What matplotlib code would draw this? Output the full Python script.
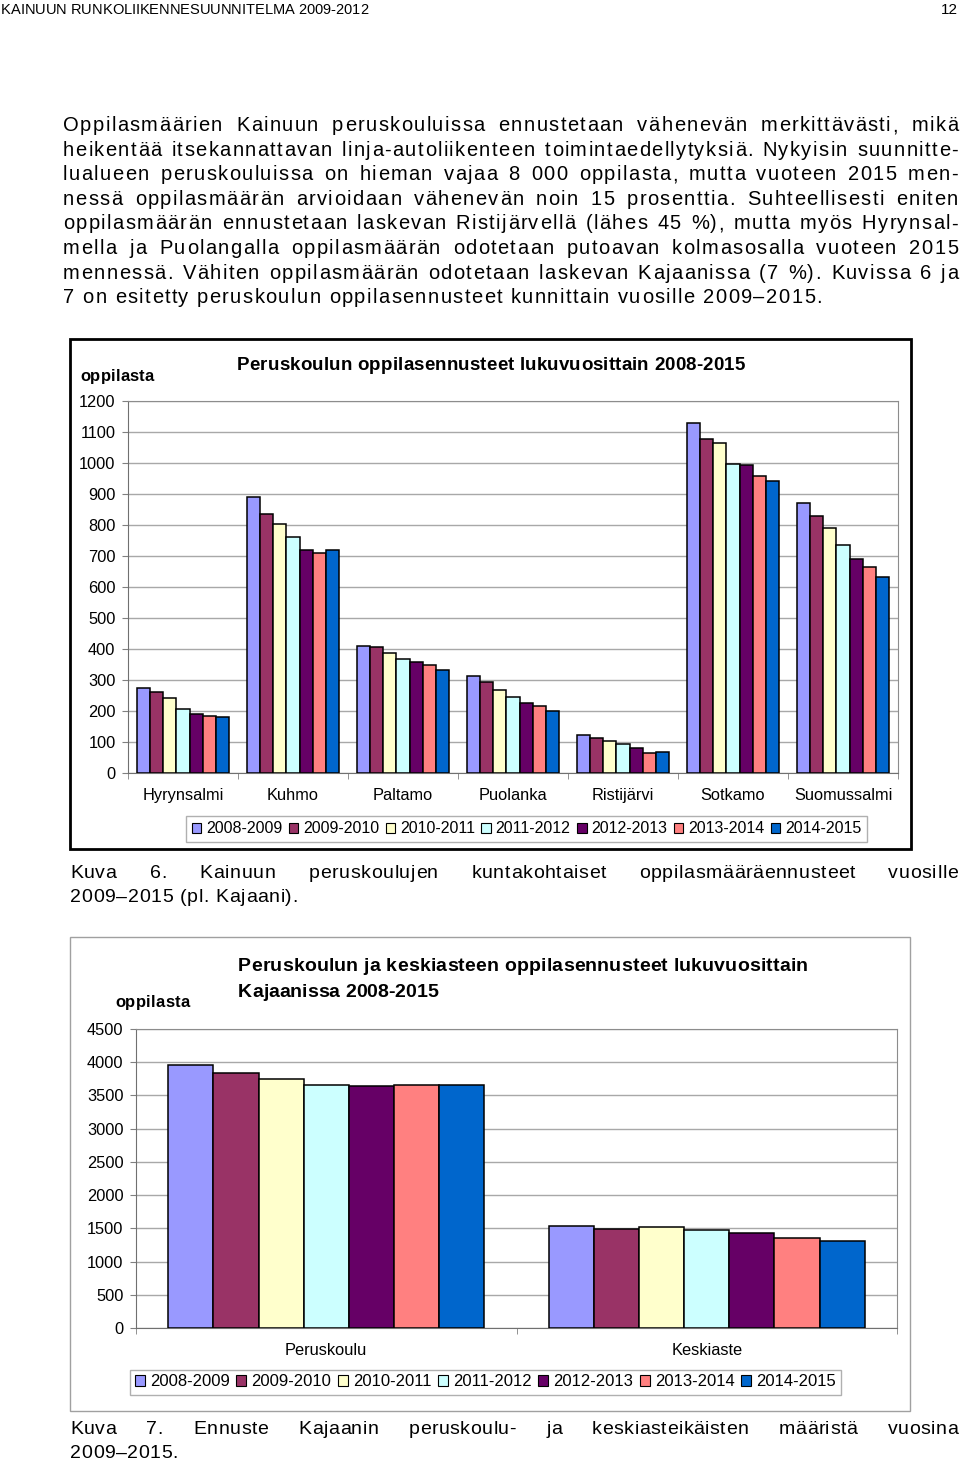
import matplotlib
matplotlib.use('Agg')
import numpy as np
import matplotlib.pyplot as plt
from matplotlib.patches import Rectangle, Patch
from matplotlib.font_manager import FontProperties, findfont, get_font

#data
years = ['2008-2009', '2009-2010', '2010-2011', '2011-2012', '2012-2013', '2013-2014', '2014-2015']
colors = ['#9999FF', '#993366', '#FFFFCC', '#CCFFFF', '#660066', '#FF8080', '#0066CC']

kunnat = ['Hyrynsalmi', 'Kuhmo', 'Paltamo', 'Puolanka', 'Ristijärvi', 'Sotkamo', 'Suomussalmi']
hyrynsalmi = [275, 260, 242, 208, 190, 185, 180]
kuhmo = [889, 836, 804, 761, 719, 710, 719]
paltamo = [411, 407, 387, 369, 358, 350, 331]
puolanka = [312, 293, 269, 245, 226, 217, 199]
ristijarvi = [123, 113, 104, 95, 81, 65, 67]
sotkamo = [1129, 1077, 1063, 997, 992, 959, 941]
suomussalmi = [870, 828, 789, 737, 690, 666, 633]
chart1 = np.array([hyrynsalmi, kuhmo, paltamo, puolanka, ristijarvi, sotkamo, suomussalmi])

asteet = ['Peruskoulu', 'Keskiaste']
peruskoulu = [3955, 3840, 3745, 3655, 3635, 3650, 3655]
keskiaste = [1540, 1495, 1515, 1470, 1430, 1355, 1310]
chart2 = np.array([peruskoulu, keskiaste])

otsikko = 'KAINUUN RUNKOLIIKENNESUUNNITELMA 2009-2012'
kappale = [
    'Oppilasmäärien Kainuun peruskouluissa ennustetaan vähenevän merkittävästi, mikä',
    'heikentää itsekannattavan linja-autoliikenteen toimintaedellytyksiä. Nykyisin suunnitte-',
    'lualueen peruskouluissa on hieman vajaa 8 000 oppilasta, mutta vuoteen 2015 men-',
    'nessä oppilasmäärän arvioidaan vähenevän noin 15 prosenttia. Suhteellisesti eniten',
    'oppilasmäärän ennustetaan laskevan Ristijärvellä (lähes 45 %), mutta myös Hyrynsal-',
    'mella ja Puolangalla oppilasmäärän odotetaan putoavan kolmasosalla vuoteen 2015',
    'mennessä. Vähiten oppilasmäärän odotetaan laskevan Kajaanissa (7 %). Kuvissa 6 ja',
    '7 on esitetty peruskoulun oppilasennusteet kunnittain vuosille 2009–2015.',
]
kuva6 = ['Kuva 6. Kainuun peruskoulujen kuntakohtaiset oppilasmääräennusteet vuosille',
         '2009–2015 (pl. Kajaani).']
kuva7 = ['Kuva 7. Ennuste Kajaanin peruskoulu- ja keskiasteikäisten määristä vuosina',
         '2009–2015.']

#asetukset
W, H, DPI = 960, 1459, 100
plt.rcParams['font.family'] = 'Liberation Sans'
fig = plt.figure(figsize=(W / DPI, H / DPI), dpi=DPI)
fig.patch.set_facecolor('white')


def adv(s, prop):
    font = get_font(findfont(prop))
    font.set_size(prop.get_size_in_points(), DPI)
    return [font.load_char(ord(c)).linearHoriAdvance / 65536 for c in s]


def put(text, x0, y, size, x1=None, mode='left', weight='normal', track=None):
    # piirtää rivin merkki kerrallaan (harvennus + tasaus)
    prop = FontProperties(family='Liberation Sans', size=size, weight=weight)
    words = text.split(' ')
    a = [adv(w, prop) for w in words]
    sp = adv(' ', prop)[0]
    if track is None:
        natural = sum(map(sum, a)) + sp * (len(words) - 1)
        track = (x1 - x0 - natural) / (len(text) - 1)
    widths = [sum(aa) + track * (len(aa) - 1) for aa in a]
    if mode == 'justify':
        gap = (x1 - x0 - sum(widths)) / (len(words) - 1)
    else:
        gap = sp + 2 * track
    x = x0
    for w, aa, wd in zip(words, a, widths):
        cx = x
        for ch, da in zip(w, aa):
            fig.text(cx / W, 1 - y / H, ch, fontproperties=prop, ha='left', va='baseline')
            cx += da + track
        x += wd + gap
    return track


def box(x0, y0, x1, y1, color, lw):
    fig.add_artist(Rectangle((x0 / W, 1 - y1 / H), (x1 - x0) / W, (y1 - y0) / H,
                             transform=fig.transFigure, fill=False, edgecolor=color, lw=lw))


#teksti
put(otsikko, 1, 14, 10.5, x1=368)
fig.text(958 / W, 1 - 14 / H, '12', fontsize=11, ha='right', va='baseline')

tr = put(kappale[-1], 63, 303, 14.5, x1=822)
for i, rivi in enumerate(kappale[:-1]):
    put(rivi, 63, 131 + i * 24.6, 14.5, x1=958, mode='justify', track=tr)

tr = put(kuva6[1], 70, 902, 14, x1=298)
put(kuva6[0], 70, 878, 14, x1=958, mode='justify', track=tr)
tr = put(kuva7[1], 70, 1458, 14, x1=178)
put(kuva7[0], 70, 1434, 14, x1=958, mode='justify', track=tr)


def bar_chart(ax, data, cats, ymax, step):
    n = len(years)
    w = 0.83 / n
    x = np.arange(len(cats))
    for i in range(n):
        ax.bar(x + (i - (n - 1) / 2) * w, data[:, i], w, color=colors[i],
               edgecolor='black', lw=1.1, zorder=3)
    ax.set_xlim(-0.5, len(cats) - 0.5)
    ax.set_ylim(0, ymax)
    ax.set_yticks(np.arange(0, ymax + 1, step))
    ax.set_xticks(x)
    ax.set_xticklabels(cats)
    ax.set_xticks(np.arange(-0.5, len(cats), 1), minor=True)
    ax.tick_params(axis='x', which='major', length=0, pad=11, labelsize=11.8)
    ax.tick_params(axis='x', which='minor', length=4, color='#808080')
    ax.tick_params(axis='y', length=4, color='#808080', pad=5, labelsize=11.8)
    ax.grid(axis='y', color='#a8a8a8', lw=1)
    ax.set_axisbelow(True)
    for s in ax.spines.values():
        s.set_color('#8c8c8c')
    ax.spines['left'].set_color('#707070')
    ax.spines['bottom'].set_color('#707070')


handles = [Patch(facecolor=c, edgecolor='black', lw=0.8) for c in colors]

#kuva 6
box(70, 339, 911, 849, 'black', 2)
ax1 = fig.add_axes([128 / W, 1 - 773 / H, 770 / W, 372 / H])
bar_chart(ax1, chart1, kunnat, 1200, 100)
put('Peruskoulun oppilasennusteet lukuvuosittain 2008-2015', 237, 370, 13.5, x1=745, weight='bold')
put('oppilasta', 80, 381, 12, x1=154, weight='bold')
ax1.legend(handles, years, loc='center', bbox_to_anchor=(526.5 / W, 1 - 829 / H),
           bbox_transform=fig.transFigure, ncol=7, fontsize=11.5, fancybox=False,
           edgecolor='#b0b0b0', framealpha=1, handlelength=0.6, handleheight=0.6,
           handletextpad=0.3, columnspacing=0.4, borderpad=0.35)

#kuva 7
box(70, 937, 910, 1411, '#a0a0a0', 1)
ax2 = fig.add_axes([136 / W, 1 - 1328 / H, 761 / W, 299 / H])
bar_chart(ax2, chart2, asteet, 4500, 500)
put('Peruskoulun ja keskiasteen oppilasennusteet lukuvuosittain', 238, 971, 14, x1=808, weight='bold')
put('Kajaanissa 2008-2015', 238, 997, 14, x1=438, weight='bold')
put('oppilasta', 115, 1007, 12, x1=190, weight='bold')
ax2.legend(handles, years, loc='center', bbox_to_anchor=(485.5 / W, 1 - 1382 / H),
           bbox_transform=fig.transFigure, ncol=7, fontsize=12, fancybox=False,
           edgecolor='#b0b0b0', framealpha=1, handlelength=0.6, handleheight=0.6,
           handletextpad=0.3, columnspacing=0.4, borderpad=0.3)

fig.savefig('out.png', dpi=DPI)
